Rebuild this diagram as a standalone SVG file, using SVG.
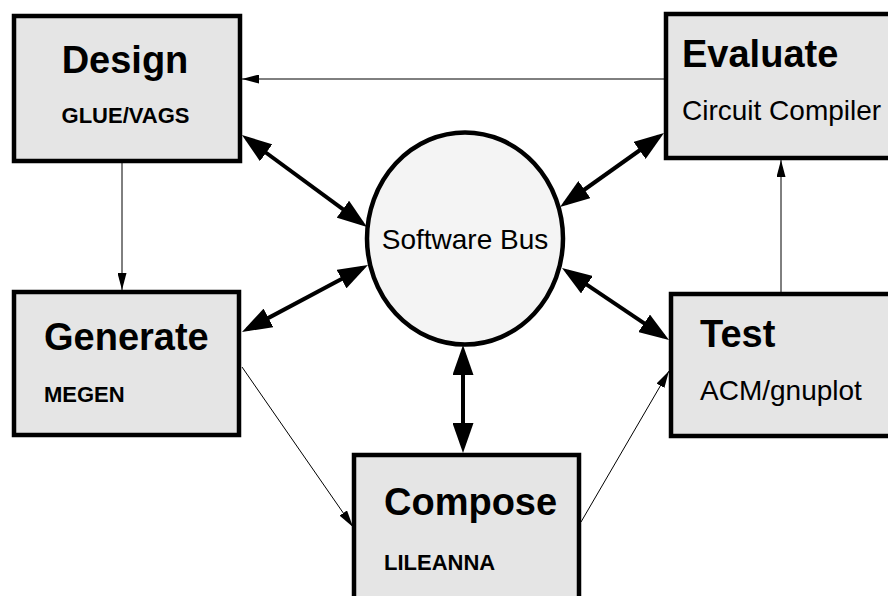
<svg xmlns="http://www.w3.org/2000/svg" width="888" height="596" viewBox="0 0 888 596">
<style>
.box{fill:#e5e5e5;stroke:#000;stroke-width:4.5}
.bus{fill:#f4f4f4;stroke:#000;stroke-width:4.5}
.t{font-family:"Liberation Sans",Arial,sans-serif;fill:#000}
.big{font-size:38px;font-weight:bold}
.sb{font-size:22px;font-weight:bold}
.rg{font-size:28px}
.thin{stroke:#000;stroke-width:1;fill:none;marker-end:url(#ah)}
.thick{stroke:#000;stroke-width:4;fill:none;marker-start:url(#AH);marker-end:url(#AH)}
</style>
<defs>
<marker id="ah" markerUnits="userSpaceOnUse" markerWidth="17" markerHeight="9" refX="17" refY="4.5" orient="auto" viewBox="0 0 17 9">
<path d="M0,0 L17,4.5 L0,9 z" fill="#000"/>
</marker>
<marker id="AH" markerUnits="userSpaceOnUse" markerWidth="30" markerHeight="21" refX="24" refY="10.5" orient="auto-start-reverse" viewBox="0 0 30 21">
<path d="M0,0 L30,10.5 L0,21 z" fill="#000"/>
</marker>
</defs>
<rect width="888" height="596" fill="#fff"/>
<g id="connectors">
<path class="thin" d="M664,79 L242,79"/>
<path class="thin" d="M122,163 L122,290"/>
<path class="thin" d="M781,292 L781,160"/>
<path class="thin" d="M242,367 L353,527"/>
<path class="thin" d="M581,522 L669,371"/>
<path class="thick" d="M246.8,138.6 L362.2,223.4"/>
<path class="thick" d="M659.1,136.5 L564.9,203.5"/>
<path class="thick" d="M247.3,329.2 L362.7,267.8"/>
<path class="thick" d="M567,271.3 L664,336.7"/>
<path class="thick" d="M463,351 L463,447"/>
</g>
<g id="design">
<rect class="box" x="14" y="16" width="226" height="145"/>
<text class="t big" x="125" y="73" text-anchor="middle">Design</text>
<text class="t sb" x="125.5" y="123" text-anchor="middle">GLUE/VAGS</text>
</g>
<g id="evaluate">
<rect class="box" x="666" y="14" width="240" height="144"/>
<text class="t big" x="682" y="67">Evaluate</text>
<text class="t rg" x="682" y="120">Circuit Compiler</text>
</g>
<g id="generate">
<rect class="box" x="14" y="292" width="225" height="143"/>
<text class="t big" x="44" y="350">Generate</text>
<text class="t sb" x="44" y="402">MEGEN</text>
</g>
<g id="test">
<rect class="box" x="671" y="294" width="240" height="142"/>
<text class="t big" x="700" y="347">Test</text>
<text class="t rg" x="700" y="400">ACM/gnuplot</text>
</g>
<g id="compose">
<rect class="box" x="354" y="455" width="225" height="160"/>
<text class="t big" x="384" y="515">Compose</text>
<text class="t sb" x="384" y="570">LILEANNA</text>
</g>
<g id="software-bus">
<ellipse class="bus" cx="465" cy="238.5" rx="98" ry="106"/>
<text class="t rg" x="465" y="248.5" text-anchor="middle">Software Bus</text>
</g>
</svg>
